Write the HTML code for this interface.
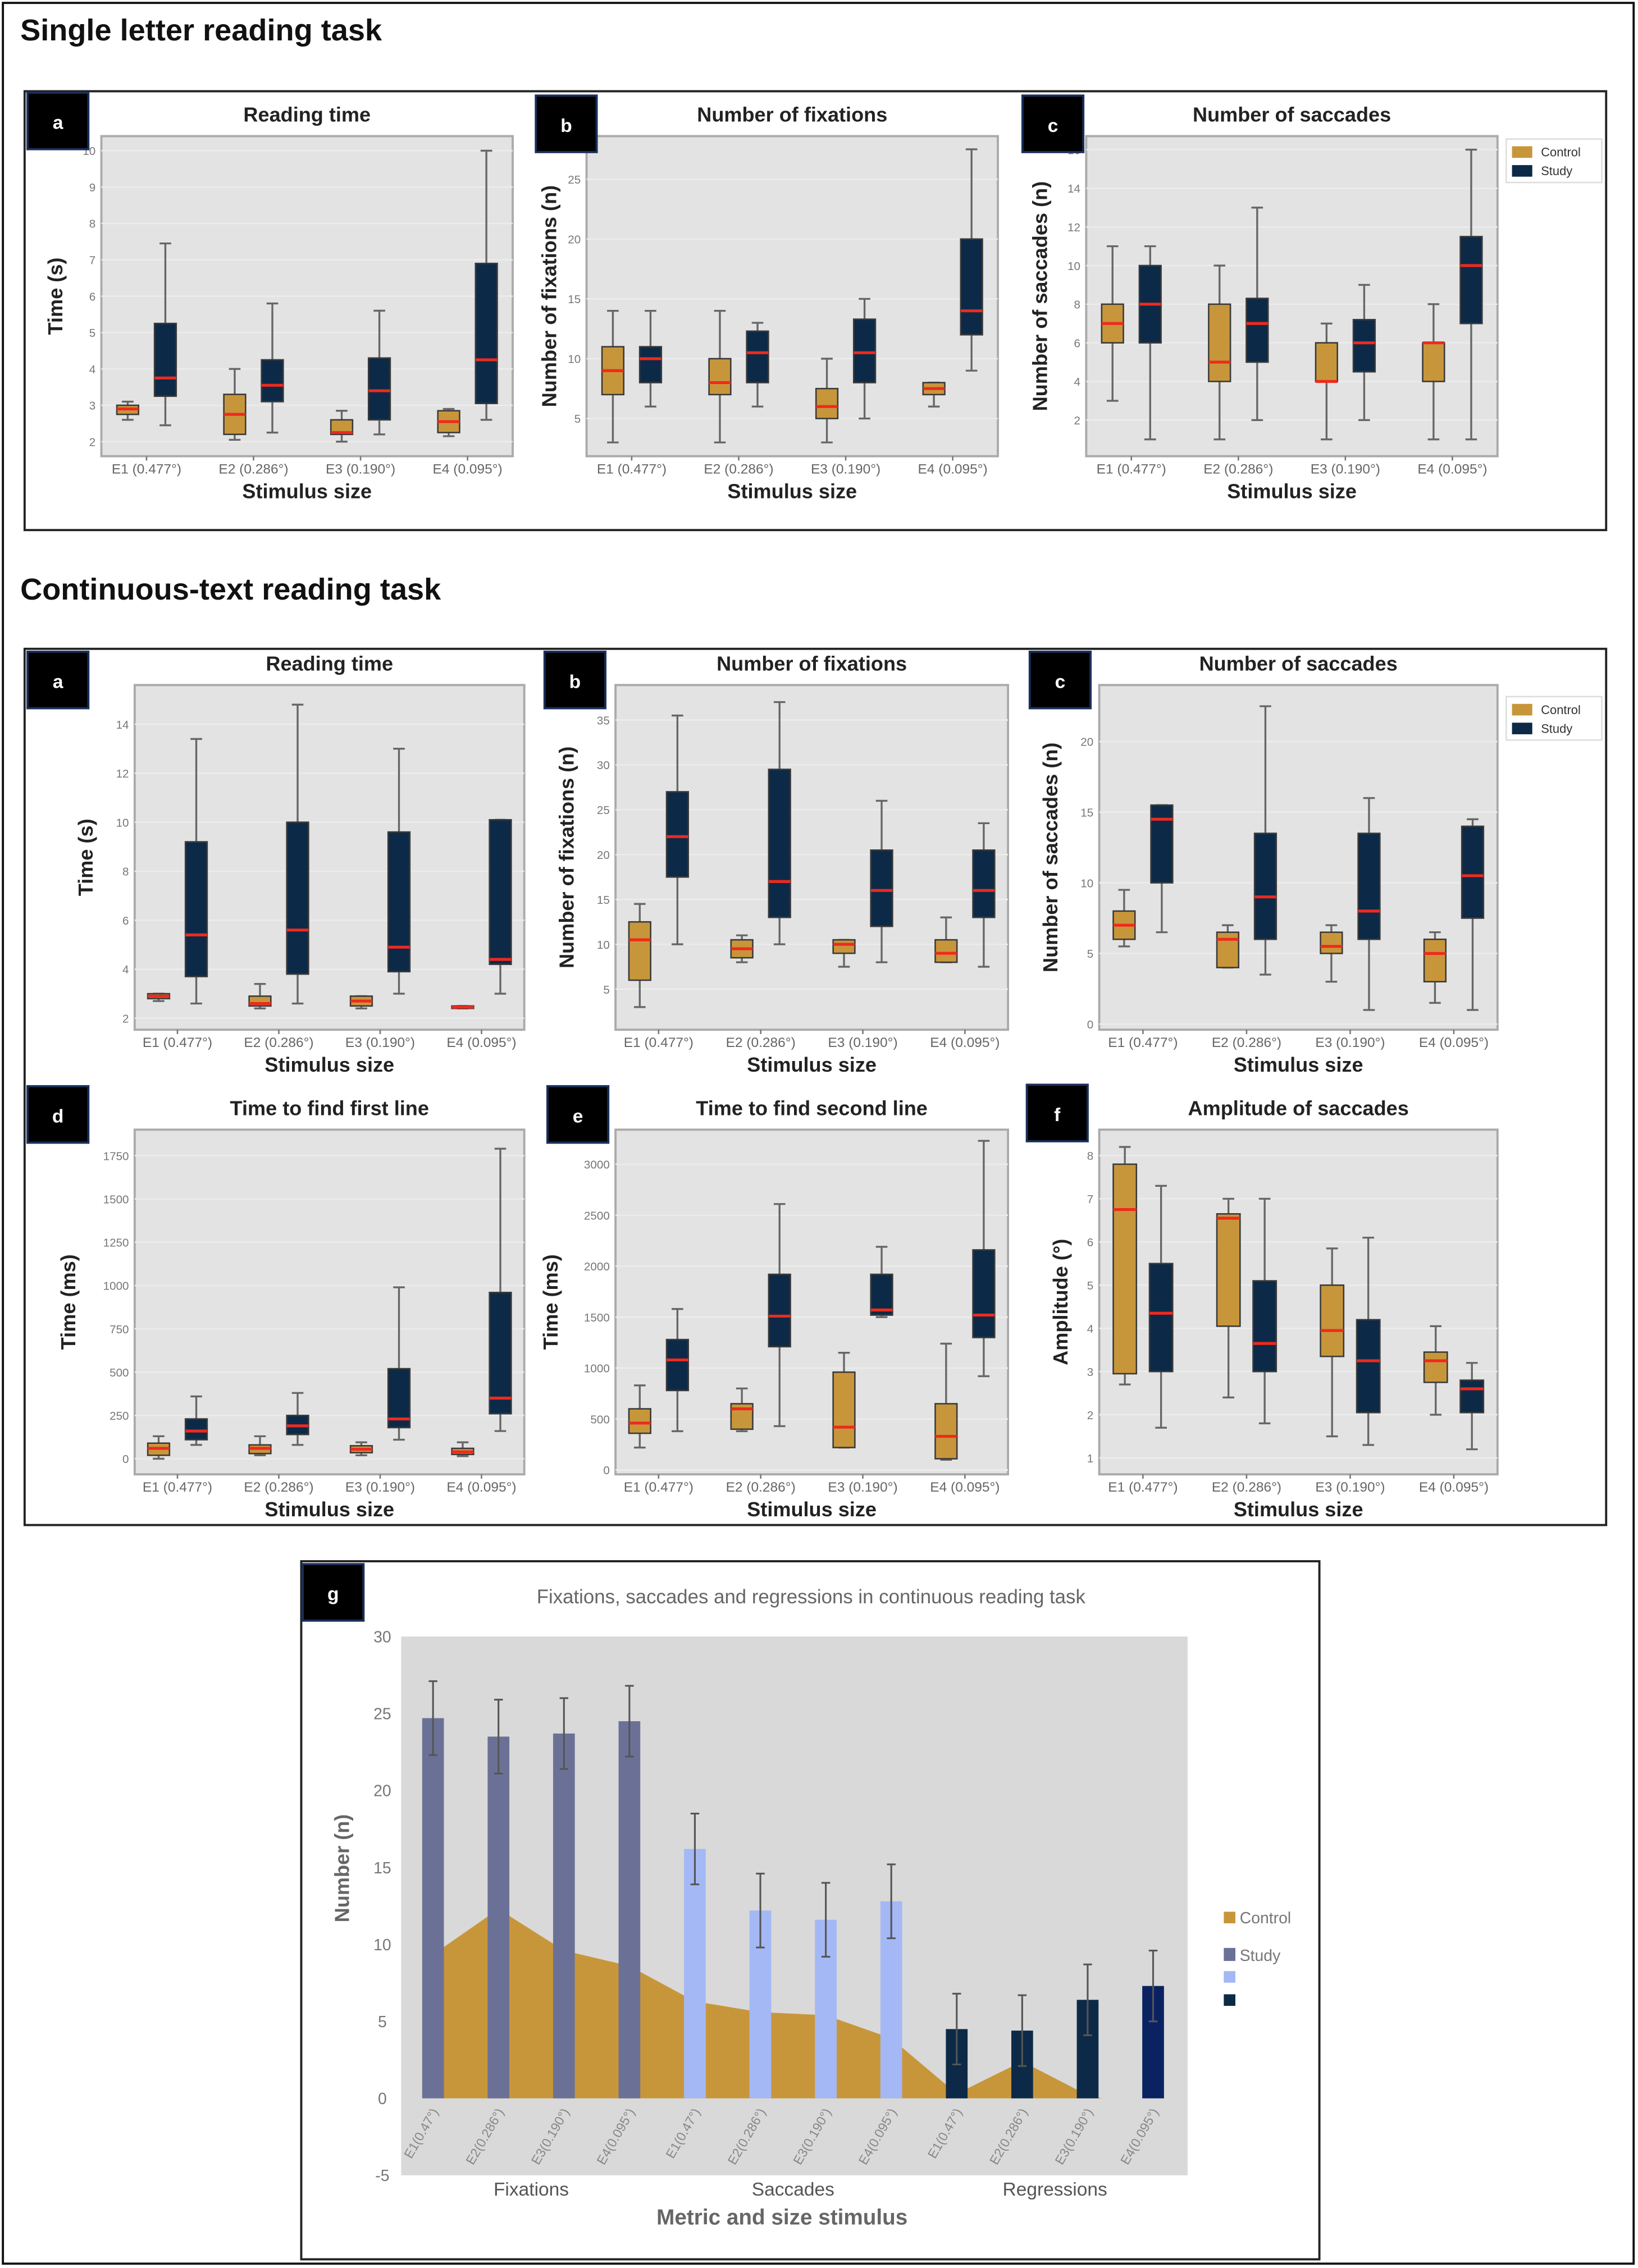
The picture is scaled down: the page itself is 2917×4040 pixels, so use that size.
<!DOCTYPE html>
<html><head><meta charset="utf-8"><style>
html,body{margin:0;padding:0;background:#fff;}
svg{display:block;}
text{font-family:"Liberation Sans",sans-serif;}
</style></head><body>
<svg id="fig" width="2917" height="4040" viewBox="0 0 1131 1566" preserveAspectRatio="none" xmlns="http://www.w3.org/2000/svg">
<rect x="2" y="2" width="1126" height="1561" fill="#fff" stroke="#111" stroke-width="1.5"/>
<text x="14" y="28" font-size="21" font-weight="bold" fill="#111">Single letter reading task</text>
<rect x="17" y="63" width="1092" height="303" fill="none" stroke="#222" stroke-width="1.5"/>
<text x="14" y="414" font-size="21" font-weight="bold" fill="#111">Continuous-text reading task</text>
<rect x="17" y="448" width="1092" height="605" fill="none" stroke="#222" stroke-width="1.5"/>
<rect x="208" y="1078" width="703" height="482" fill="none" stroke="#222" stroke-width="1.5"/>
<g id="layer"></g>
</svg>
<script>
const categories = ["E1 (0.477°)","E2 (0.286°)","E3 (0.190°)","E4 (0.095°)"];
const slTimeControl = [[2.6,2.75,2.9,3.0,3.1],[2.05,2.2,2.75,3.3,4.0],[2.0,2.2,2.25,2.6,2.85],[2.15,2.25,2.55,2.85,2.9]];
const slTimeStudy = [[2.45,3.25,3.75,5.25,7.45],[2.25,3.1,3.55,4.25,5.8],[2.2,2.6,3.4,4.3,5.6],[2.6,3.05,4.25,6.9,10.0]];
const slFixControl = [[3,7,9,11,14],[3,7,8,10,14],[3,5,6,7.5,10],[6,7,7.5,8,8]];
const slFixStudy = [[6,8,10,11,14],[6,8,10.5,12.3,13],[5,8,10.5,13.3,15],[9,12,14,20,27.5]];
const slSacControl = [[3,6,7,8,11],[1,4,5,8,10],[1,4,4,6,7],[1,4,6,6,8]];
const slSacStudy = [[1,6,8,10,11],[2,5,7,8.3,13],[2,4.5,6,7.2,9],[1,7,10,11.5,16]];
const ctTimeControl = [[2.7,2.8,2.9,3.0,3.0],[2.4,2.5,2.6,2.9,3.4],[2.4,2.5,2.7,2.9,2.9],[2.4,2.4,2.45,2.5,2.5]];
const ctTimeStudy = [[2.6,3.7,5.4,9.2,13.4],[2.6,3.8,5.6,10.0,14.8],[3.0,3.9,4.9,9.6,13.0],[3.0,4.2,4.4,10.1,10.1]];
const ctFixControl = [[3,6,10.5,12.5,14.5],[8,8.5,9.5,10.5,11],[7.5,9,10,10.5,10.5],[8,8,9,10.5,13]];
const ctFixStudy = [[10,17.5,22,27,35.5],[10,13,17,29.5,37],[8,12,16,20.5,26],[7.5,13,16,20.5,23.5]];
const ctSacControl = [[5.5,6,7,8,9.5],[4,4,6,6.5,7],[3,5,5.5,6.5,7],[1.5,3,5,6,6.5]];
const ctSacStudy = [[6.5,10,14.5,15.5,15.5],[3.5,6,9,13.5,22.5],[1,6,8,13.5,16],[1,7.5,10.5,14,14.5]];
const firstLineControl = [[0,20,60,90,130],[20,30,60,80,130],[20,35,55,75,95],[15,25,40,60,95]];
const firstLineStudy = [[80,110,160,230,360],[80,140,190,250,380],[110,180,230,520,990],[160,260,350,960,1790]];
const secondLineControl = [[220,360,460,600,830],[380,400,600,650,800],[220,220,420,960,1150],[100,110,330,650,1240]];
const secondLineStudy = [[380,780,1080,1280,1580],[430,1210,1510,1920,2610],[1500,1520,1570,1920,2190],[920,1300,1520,2160,3230]];
const ampControl = [[2.7,2.95,6.75,7.8,8.2],[2.4,4.05,6.55,6.65,7.0],[1.5,3.35,3.95,5.0,5.85],[2.0,2.75,3.25,3.45,4.05]];
const ampStudy = [[1.7,3.0,4.35,5.5,7.3],[1.8,3.0,3.65,5.1,7.0],[1.3,2.05,3.25,4.2,6.1],[1.2,2.05,2.6,2.8,3.2]];
const ticksTime10 = [2,3,4,5,6,7,8,9,10];
const ticksFix25 = [5,10,15,20,25];
const ticksSac16 = [2,4,6,8,10,12,14,16];
const ticksTime14 = [2,4,6,8,10,12,14];
const ticksFix35 = [5,10,15,20,25,30,35];
const ticksSac20 = [0,5,10,15,20];
const ticksMs1750 = [0,250,500,750,1000,1250,1500,1750];
const ticksMs3000 = [0,500,1000,1500,2000,2500,3000];
const ticksAmp = [1,2,3,4,5,6,7,8];
const gCategories = ["E1(0.47°)","E2(0.286°)","E3(0.190°)","E4(0.095°)","E1(0.47°)","E2(0.286°)","E3(0.190°)","E4(0.095°)","E1(0.47°)","E2(0.286°)","E3(0.190°)","E4(0.095°)"];
const gStudy = [24.7,23.5,23.7,24.5,16.2,12.2,11.6,12.8,4.5,4.4,6.4,7.3];
const gStudyErr = [2.4,2.4,2.3,2.3,2.3,2.4,2.4,2.4,2.3,2.3,2.3,2.3];
const gControl = [9.8,12.3,9.6,8.6,6.3,5.6,5.4,3.9,0.3,2.4,0.2];
const gTicks = [-5,0,5,10,15,20,25,30];
const gGroups = ["Fixations","Saccades","Regressions"];

const NS="http://www.w3.org/2000/svg";
const layer=document.getElementById('layer');
function mk(tag,attrs,parent,text){const e=document.createElementNS(NS,tag);for(const k in attrs)e.setAttribute(k,attrs[k]);if(text!==undefined)e.textContent=text;(parent||layer).appendChild(e);return e;}

const GOLD="#c8963a", NAVY="#0c2a48", RED="#ee2a1e";

function labelBox(x,y,letter){
  const r=mk('rect',{x:x,y:y,width:42,height:39,fill:'#000',stroke:'#1a2f5a','stroke-width':1.5});
  
  
  const t=mk('text',{x:x+21,y:y+25,'text-anchor':'middle','font-size':13,fill:'#fff','font-weight':'bold'},null,letter);
  
  
}

function boxPanel(p){
  const g=mk('g',{});
  
  
  const L=p.x,R=p.x+p.w,T=p.y,B=p.y+p.h;
  const y=v=>B-(v-p.min)/(p.max-p.min)*p.h;
  const step=p.w/4.1, x0=L+step*0.45;
  const xc=i=>x0+i*(p.w-2*(step*0.45))/3;
  const bg=mk('rect',{x:L,y:T,width:p.w,height:p.h,fill:'#e3e3e3',stroke:'#aaa','stroke-width':1.5},g);
  
  
  p.ticks.forEach(t=>{
    const yy=y(t);
    mk('line',{x1:L,x2:R,y1:yy,y2:yy,stroke:'#ececec','stroke-width':1},g);
    const tl=mk('text',{x:L-4,y:yy+3,'text-anchor':'end','font-size':8,fill:'#777'},g,String(t));
    
    
  });
  categories.forEach((c,i)=>{
    mk('line',{x1:xc(i),x2:xc(i),y1:B,y2:B+3,stroke:'#777'},g);
    const tl=mk('text',{x:xc(i),y:B+12,'text-anchor':'middle','font-size':9.5,fill:'#666'},g,c);
    
    
  });
  const bw=p.bw||15, off=p.off||13;
  [[p.control,GOLD,-off,'control'],[p.study,NAVY,off,'study']].forEach(([arr,col,o,nm])=>{
    arr.forEach((s,i)=>{
      const cx=xc(i)+o;
      mk('line',{x1:cx,x2:cx,y1:y(s[4]),y2:y(s[0]),stroke:'#666','stroke-width':1.3},g);
      mk('line',{x1:cx-4,x2:cx+4,y1:y(s[4]),y2:y(s[4]),stroke:'#666','stroke-width':1.3},g);
      mk('line',{x1:cx-4,x2:cx+4,y1:y(s[0]),y2:y(s[0]),stroke:'#666','stroke-width':1.3},g);
      const b=mk('rect',{x:cx-bw/2,y:y(s[3]),width:bw,height:Math.max(1,y(s[1])-y(s[3])),fill:col,stroke:'#3a3a3a','stroke-width':1},g);
      
      
      mk('line',{x1:cx-bw/2,x2:cx+bw/2,y1:y(s[2]),y2:y(s[2]),stroke:RED,'stroke-width':2},g);
    });
  });
  const tt=mk('text',{x:L+p.w/2,y:T-10,'text-anchor':'middle','font-size':14,'font-weight':'bold',fill:'#222'},g,p.title);
  
  
  const xt=mk('text',{x:L+p.w/2,y:B+29,'text-anchor':'middle','font-size':14,'font-weight':'bold',fill:'#222'},g,'Stimulus size');
  
  
  const yx=p.ylx, yy=T+p.h/2;
  const yt=mk('text',{x:yx,y:yy,'text-anchor':'middle','font-size':14,'font-weight':'bold',fill:'#222',transform:`rotate(-90 ${yx} ${yy})`},g,p.ylabel);
  
  
}

function legend(x,y){
  const g=mk('g',{});
  
  
  mk('rect',{x:x,y:y,width:66,height:30,fill:'#fff',stroke:'#ddd'},g);
  mk('rect',{x:x+4,y:y+5,width:14,height:8,fill:GOLD},g);
  mk('text',{x:x+24,y:y+12,'font-size':8.5,fill:'#333'},g,'Control');
  mk('rect',{x:x+4,y:y+18,width:14,height:8,fill:NAVY},g);
  mk('text',{x:x+24,y:y+25,'font-size':8.5,fill:'#333'},g,'Study');
}

boxPanel({name:'sl-reading-time',x:70,y:94,w:284,h:221,min:1.6,max:10.4,ticks:ticksTime10,control:slTimeControl,study:slTimeStudy,title:'Reading time',ylabel:'Time (s)',ylx:43});
boxPanel({name:'sl-fixations',x:405,y:94,w:284,h:221,min:1.85,max:28.6,ticks:ticksFix25,control:slFixControl,study:slFixStudy,title:'Number of fixations',ylabel:'Number of fixations (n)',ylx:384});
boxPanel({name:'sl-saccades',x:750,y:94,w:284,h:221,min:0.13,max:16.7,ticks:ticksSac16,control:slSacControl,study:slSacStudy,title:'Number of saccades',ylabel:'Number of saccades (n)',ylx:723});
labelBox(19,64,'a');labelBox(370,66,'b');labelBox(706,66,'c');
legend(1040,96);

boxPanel({name:'ct-reading-time',x:93,y:473,w:269,h:238,min:1.53,max:15.6,ticks:ticksTime14,control:ctTimeControl,study:ctTimeStudy,title:'Reading time',ylabel:'Time (s)',ylx:64});
boxPanel({name:'ct-fixations',x:425,y:473,w:271,h:238,min:0.48,max:38.9,ticks:ticksFix35,control:ctFixControl,study:ctFixStudy,title:'Number of fixations',ylabel:'Number of fixations (n)',ylx:396});
boxPanel({name:'ct-saccades',x:759,y:473,w:275,h:238,min:-0.4,max:24,ticks:ticksSac20,control:ctSacControl,study:ctSacStudy,title:'Number of saccades',ylabel:'Number of saccades (n)',ylx:730});
labelBox(19,450,'a');labelBox(376,450,'b');labelBox(711,450,'c');
legend(1040,481);

boxPanel({name:'time-first-line',x:93,y:780,w:269,h:238,min:-90,max:1900,ticks:ticksMs1750,control:firstLineControl,study:firstLineStudy,title:'Time to find first line',ylabel:'Time (ms)',ylx:52});
boxPanel({name:'time-second-line',x:425,y:780,w:271,h:238,min:-43,max:3340,ticks:ticksMs3000,control:secondLineControl,study:secondLineStudy,title:'Time to find second line',ylabel:'Time (ms)',ylx:385});
boxPanel({name:'amplitude-saccades',x:759,y:780,w:275,h:238,min:0.62,max:8.6,ticks:ticksAmp,control:ampControl,study:ampStudy,title:'Amplitude of saccades',ylabel:'Amplitude (°)',ylx:737,bw:16,off:12.5});
labelBox(19,750,'d');labelBox(378,750,'e');labelBox(709,749,'f');

(function(){
  const g=mk('g',{});
  
  
  const L=277,R=820,T=1130,B=1502,min=-5,max=30;
  const y=v=>B-(v-min)/(max-min)*(B-T);
  const x=i=>299+i*45.2;
  const bg=mk('rect',{x:L,y:T,width:R-L,height:B-T,fill:'#d9d9d9'},g);
  
  
  gTicks.forEach(t=>{
    const tl=mk('text',{x:264,y:y(t)+4,'text-anchor':'middle','font-size':11,fill:'#777'},g,String(t));
    
    
  });
  let d=`M${x(0)+7},${y(0)}`;
  gControl.forEach((v,i)=>{d+=` L${i===0?x(0)+7:x(i)},${y(v)}`;});
  d+=` L${x(gControl.length-1)+10},${y(0)} Z`;
  const area=mk('path',{d:d,fill:'#c8963a'},g);
  
  
  const cols=['#6b7196','#6b7196','#6b7196','#6b7196','#a4b8f5','#a4b8f5','#a4b8f5','#a4b8f5','#0c2a48','#0c2a48','#0c2a48','#0a2262'];
  gStudy.forEach((v,i)=>{
    const b=mk('rect',{x:x(i)-7.5,y:y(v),width:15,height:y(0)-y(v),fill:cols[i]},g);
    
    
    const e=gStudyErr[i];
    mk('line',{x1:x(i),x2:x(i),y1:y(v+e),y2:y(v-e),stroke:'#555','stroke-width':1.2},g);
    mk('line',{x1:x(i)-3,x2:x(i)+3,y1:y(v+e),y2:y(v+e),stroke:'#555','stroke-width':1.2},g);
    mk('line',{x1:x(i)-3,x2:x(i)+3,y1:y(v-e),y2:y(v-e),stroke:'#555','stroke-width':1.2},g);
    const cx=x(i)+4, cy=1458;
    const tl=mk('text',{x:cx,y:cy,'text-anchor':'end','font-size':9,fill:'#888',transform:`rotate(-60 ${cx} ${cy})`},g,gCategories[i]);
    
    
  });
  gGroups.forEach((t,k)=>{
    const gx=(x(k*4)+x(k*4+3))/2;
    const gl=mk('text',{x:gx,y:1516,'text-anchor':'middle','font-size':13,fill:'#555'},g,t);
    
    
  });
  const tt=mk('text',{x:560,y:1107,'text-anchor':'middle','font-size':13.5,fill:'#666'},g,'Fixations, saccades and regressions in continuous reading task');
  
  
  const xt=mk('text',{x:540,y:1536,'text-anchor':'middle','font-size':15,'font-weight':'bold',fill:'#666'},g,'Metric and size stimulus');
  
  
  const yt=mk('text',{x:241,y:1290,'text-anchor':'middle','font-size':14,'font-weight':'bold',fill:'#666',transform:'rotate(-90 241 1290)'},g,'Number  (n)');
  
  
  const lg=mk('g',{},g);
  
  
  mk('rect',{x:845,y:1320,width:8,height:8,fill:'#c8963a'},lg);
  mk('text',{x:856,y:1328,'font-size':11,fill:'#777'},lg,'Control');
  mk('rect',{x:845,y:1345,width:8,height:9,fill:'#6b7196'},lg);
  mk('text',{x:856,y:1354,'font-size':11,fill:'#777'},lg,'Study');
  mk('rect',{x:845,y:1361,width:8,height:8,fill:'#a4b8f5'},lg);
  mk('rect',{x:845,y:1377,width:8,height:8,fill:'#0c2a48'},lg);
})();
labelBox(209,1080,'g');
</script>
</body></html>
